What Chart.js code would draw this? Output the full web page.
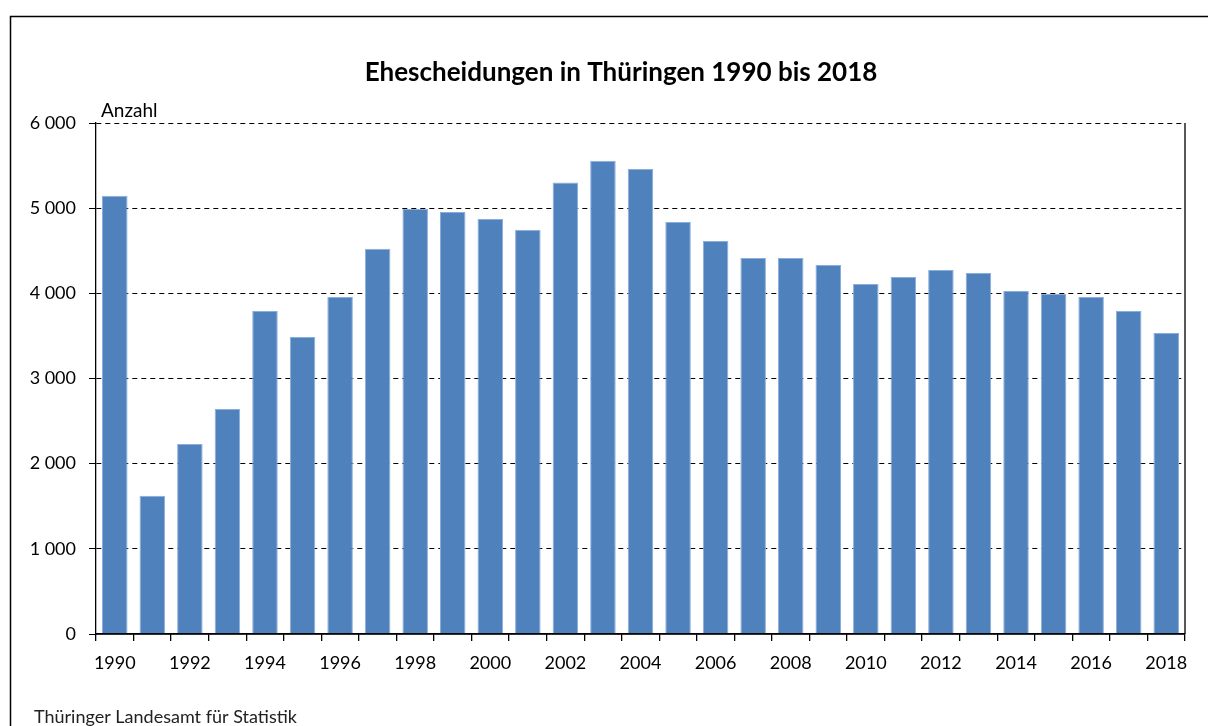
<!DOCTYPE html>
<html>
<head>
<meta charset="utf-8">
<script src="https://cdn.jsdelivr.net/npm/chart.js@4/dist/chart.umd.min.js"></script>
<style>
  html, body { margin: 0; padding: 0; background: #fff; }
  #wrap { width: 1208px; height: 726px; }
</style>
</head>
<body>
<div id="wrap"><canvas id="grafico" width="1208" height="726"></canvas></div>
<script>
// Ehescheidungen in Thüringen
const jahre = ['1990','1991','1992','1993','1994','1995','1996','1997','1998','1999',
  '2000','2001','2002','2003','2004','2005','2006','2007','2008','2009',
  '2010','2011','2012','2013','2014','2015','2016','2017','2018'];
const scheidungen = [5146, 1622, 2232, 2642, 3792, 3487, 3957, 4524, 4990, 4955,
  4872, 4747, 5302, 5557, 5460, 4837, 4614, 4414, 4414, 4332,
  4109, 4191, 4273, 4238, 4027, 3992, 3957, 3792, 3534];
const yTicks = [0, 1000, 2000, 3000, 4000, 5000, 6000];

const titel = 'Ehescheidungen in Thüringen 1990 bis 2018';
const einheit = 'Anzahl';
const quelle = 'Thüringer Landesamt für Statistik';
const schrift = 'Lato, "Liberation Sans", sans-serif';

const tausender = v => String(v).replace(/\B(?=(\d{3})+(?!\d))/g, ' ');

const rahmen = {
  id: 'rahmen',
  afterDraw(chart) {
    const ctx = chart.ctx, a = chart.chartArea;
    ctx.save();
    // äußerer Rahmen
    ctx.strokeStyle = '#000';
    ctx.lineWidth = 1.5;
    ctx.strokeRect(10.5, 16.5, 1300, 800);
    // rechte Achsenlinie + Nulllinie
    ctx.lineWidth = 1.3;
    ctx.beginPath();
    ctx.moveTo(a.right, a.top);
    ctx.lineTo(a.right, a.bottom);
    ctx.moveTo(a.left, a.bottom);
    ctx.lineTo(a.right, a.bottom);
    ctx.stroke();
    // Texte
    ctx.fillStyle = '#000';
    ctx.textAlign = 'center';
    ctx.textBaseline = 'alphabetic';
    ctx.font = 'bold 26px ' + schrift;
    ctx.fillText(titel, 621, 81);
    ctx.textAlign = 'left';
    ctx.font = '19px ' + schrift;
    ctx.fillText(einheit, 101, 117);
    ctx.fillStyle = '#222';
    ctx.font = '18px ' + schrift;
    ctx.fillText(quelle, 34, 723);
    ctx.restore();
  }
};

new Chart(document.getElementById('grafico'), {
  type: 'bar',
  data: {
    labels: jahre,
    datasets: [{
      data: scheidungen,
      backgroundColor: '#4f81bd',
      borderColor: '#8aaedb',
      borderWidth: { top: 1, left: 1, right: 1, bottom: 0 },
      barPercentage: 0.68,
      categoryPercentage: 1
    }]
  },
  options: {
    responsive: false,
    animation: false,
    layout: { padding: { top: 123, right: 23, left: 0, bottom: 0 } },
    plugins: { legend: { display: false }, tooltip: { enabled: false } },
    scales: {
      x: {
        grid: { offset: true, drawOnChartArea: false, color: '#000', lineWidth: 1.3, tickLength: 7 },
        border: { color: '#000', width: 1.3 },
        ticks: {
          autoSkip: false, maxRotation: 0, padding: 11, color: '#000',
          font: { family: schrift, size: 18 },
          callback: (v, i) => i % 2 === 0 ? jahre[i] : ''
        },
        afterFit: s => { s.height = 92; }
      },
      y: {
        min: 0, max: 6000,
        afterBuildTicks: s => { s.ticks = yTicks.map(v => ({ value: v })); },
        grid: {
          color: c => (c.tick && c.tick.value === 0) ? 'rgba(0,0,0,0)' : '#000',
          tickColor: '#000', lineWidth: 1, tickBorderDash: [], tickLength: 7
        },
        border: { color: '#000', width: 1.3, dash: [5, 4] },
        ticks: {
          padding: 13, color: '#000',
          font: { family: schrift, size: 18 },
          callback: v => tausender(v)
        },
        afterFit: s => { s.width = 96; }
      }
    }
  },
  plugins: [rahmen]
});
</script>
</body>
</html>
